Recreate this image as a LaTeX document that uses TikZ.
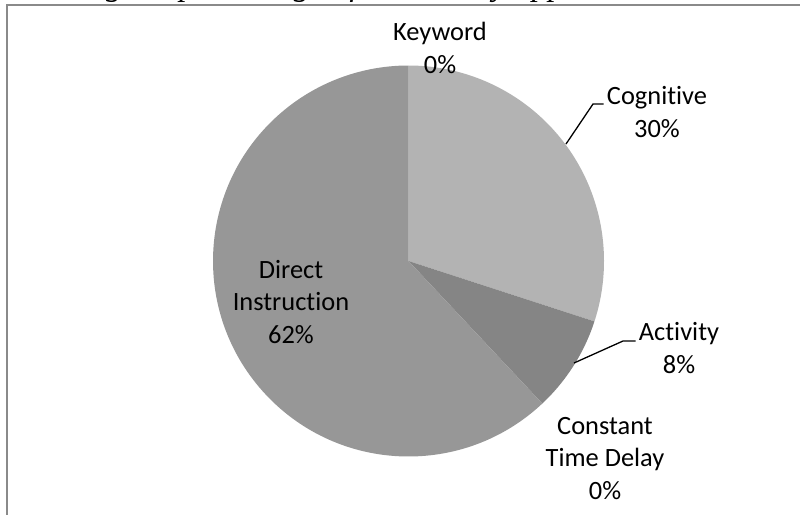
\documentclass[tikz,border=0pt]{standalone}
\usepackage{fontspec}
\setmainfont[Ligatures=NoCommon]{Carlito}
\newfontfamily\titlefont{Liberation Serif}
\newcommand\lblfont{\fontsize{26.4}{32.5}\selectfont}
\definecolor{cogc}{HTML}{B3B3B3}
\definecolor{actc}{HTML}{858585}
\definecolor{dirc}{HTML}{979797}
\definecolor{framec}{HTML}{8A8A8A}
\tikzset{
  lbl/.style={font=\lblfont, align=center, inner sep=0pt, text=black},
  leader/.style={draw=black, line width=1.3pt},
}
\begin{document}
\begin{tikzpicture}[x=1pt,y=-1pt]
\useasboundingbox (0,0) rectangle (800,514);
\fill[white] (0,0) rectangle (800,514);
% clipped caption (only descenders visible)
\begin{scope}
\clip (0,0) rectangle (800,514);
\node[font=\titlefont\itshape\fontsize{33}{38}\selectfont, anchor=base east, inner sep=0pt] (title) at (641,-4.5) {Pie Chart showing the percentage of each study approach};
\end{scope}
% frame
\draw[framec, line width=1.6pt] (7,530) -- (7,4.8) -- (810,4.8);
% pie
\coordinate (c) at (408.5,261);
\fill[cogc] (c) -- ++(-90:195.5) arc[start angle=-90, end angle=18, radius=195.5] -- cycle;
\fill[actc] (c) -- ++(18:195.5) arc[start angle=18, end angle=46.8, radius=195.5] -- cycle;
\fill[dirc] (c) -- ++(46.8:195.5) arc[start angle=46.8, end angle=270, radius=195.5] -- cycle;
% labels (base anchor = baseline of last line)
\node[lbl, anchor=base] (kw) at (440,73) {Keyword\\0\%};
\node[lbl, anchor=base] (cog) at (657,137) {Cognitive\\30\%};
\node[lbl, anchor=base] (act) at (679,373) {Activity\\8\%};
\node[lbl, anchor=base] (ctd) at (605,499) {Constant\\Time Delay\\0\%};
\node[lbl, anchor=base] (dir) at (291,343) {Direct\\Instruction\\62\%};
% leaders
\coordinate (cogA) at (566,144);
\coordinate (cogB) at (593,104);
\coordinate (cogC) at (603.5,104);
\coordinate (actA) at (574,363);
\coordinate (actB) at (623,341);
\coordinate (actC) at (635.5,341);
\draw[leader] (cogA) -- (cogB) -- (cogC);
\draw[leader] (actA) -- (actB) -- (actC);
\end{tikzpicture}
\end{document}
